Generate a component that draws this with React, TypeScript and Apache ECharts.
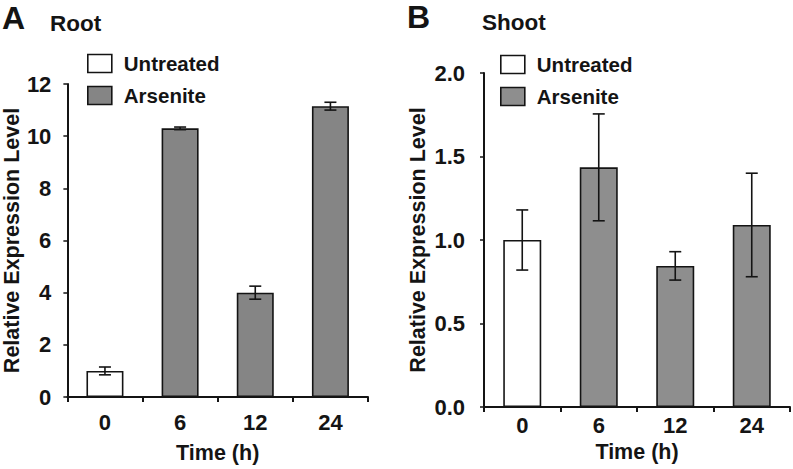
import React, { useEffect, useRef } from "react";
import * as echarts from "echarts";

const categories = ["0", "6", "12", "24"];
const rootMeans = [1.0, 10.3, 4.0, 11.15];
const rootErrors = [0.15, 0.05, 0.25, 0.15];
const shootMeans = [1.0, 1.435, 0.845, 1.09];
const shootErrors = [0.18, 0.32, 0.085, 0.31];
const untreatedIndex = [0];
const seriesNames = ["Untreated", "Arsenite"];

const FONT = "'Liberation Sans', Arial, sans-serif";
const INK = "#141414";
const WHITE = "#ffffff";
const GREY_A = "#858585";
const GREY_B = "#8e8e8e";

function split(means: number[]) {
  const u = means.map((v, i) => (untreatedIndex.includes(i) ? v : "-"));
  const a = means.map((v, i) => (untreatedIndex.includes(i) ? "-" : v));
  return [u, a];
}

function errorData(means: number[], errs: number[]) {
  return means.map((m, i) => [categories[i], m, errs[i]]);
}

const renderError = (params: any, api: any) => {
  const x = api.value(0);
  const m = api.value(1);
  const e = api.value(2);
  const top = api.coord([x, m + e]);
  const bot = api.coord([x, m - e]);
  const hw = 6;
  const st = { stroke: INK, lineWidth: 1.6 };
  return {
    type: "group",
    children: [
      { type: "line", shape: { x1: top[0], y1: top[1], x2: bot[0], y2: bot[1] }, style: st },
      { type: "line", shape: { x1: top[0] - hw, y1: top[1], x2: top[0] + hw, y2: top[1] }, style: st },
      { type: "line", shape: { x1: bot[0] - hw, y1: bot[1], x2: bot[0] + hw, y2: bot[1] }, style: st },
    ],
  };
};

export default function App() {
  const ref = useRef<HTMLDivElement>(null);
  useEffect(() => {
    if (!ref.current) return;
    const chart = echarts.init(ref.current, undefined, { renderer: "svg" });
    const [ru, ra] = split(rootMeans);
    const [su, sa] = split(shootMeans);
    const axisLabel = { color: INK, fontWeight: "bold", fontSize: 22, fontFamily: FONT };
    const nameStyle = { color: INK, fontWeight: "bold", fontSize: 21.5, fontFamily: FONT };
    const axisLine = { show: true, lineStyle: { color: INK, width: 2 } };
    const barBase = (color: string) => ({ color, borderColor: INK, borderWidth: 1.6 });

    const legendCommon = (color: string) => ({
      orient: "vertical",
      padding: 0,
      itemWidth: 24,
      itemHeight: 18,
      itemGap: 11,
      icon: "rect",
      selectedMode: false,
      textStyle: { color: INK, fontWeight: "bold", fontSize: 20.5, fontFamily: FONT, padding: [0, 0, 0, 7] },
      data: [
        { name: seriesNames[0], itemStyle: { color: WHITE, borderColor: INK, borderWidth: 1.6 } },
        { name: seriesNames[1], itemStyle: { color, borderColor: INK, borderWidth: 1.6 } },
      ],
    });

    chart.setOption({
      animation: false,
      backgroundColor: "#ffffff",
      grid: [
        { left: 66, top: 84, width: 302, height: 317 },
        { left: 484, top: 73, width: 306, height: 334 },
      ],
      legend: [
        { ...legendCommon(GREY_A), left: 87, top: 53 },
        { ...legendCommon(GREY_B), left: 500, top: 54 },
      ],
      graphic: [
        { type: "text", left: 2, top: 2, style: { text: "A", fontSize: 32, fontWeight: "bold", fontFamily: FONT, fill: INK } },
        { type: "text", left: 50, top: 12, style: { text: "Root", fontSize: 22.5, fontWeight: "bold", fontFamily: FONT, fill: INK } },
        { type: "text", left: 407, top: 1, style: { text: "B", fontSize: 32, fontWeight: "bold", fontFamily: FONT, fill: INK } },
        { type: "text", left: 482, top: 11, style: { text: "Shoot", fontSize: 22.5, fontWeight: "bold", fontFamily: FONT, fill: INK } },
      ],
      xAxis: [
        {
          type: "category", gridIndex: 0, data: categories,
          axisLine, axisTick: { show: true, length: 5, alignWithLabel: false, lineStyle: { color: INK, width: 2 } },
          axisLabel: { ...axisLabel, margin: 14 },
          name: "Time (h)", nameLocation: "middle", nameGap: 45, nameTextStyle: nameStyle,
        },
        {
          type: "category", gridIndex: 1, data: categories,
          axisLine, axisTick: { show: true, length: 5, alignWithLabel: false, lineStyle: { color: INK, width: 2 } },
          axisLabel: { ...axisLabel, margin: 7 },
          name: "Time (h)", nameLocation: "middle", nameGap: 31, nameTextStyle: nameStyle,
        },
      ],
      yAxis: [
        {
          type: "value", gridIndex: 0, min: 0, max: 12, interval: 2,
          axisLine, axisTick: { show: true, length: 4, lineStyle: { color: INK, width: 1.5 } },
          splitLine: { show: false },
          axisLabel: { ...axisLabel, margin: 16 },
          name: "Relative Expression Level", nameLocation: "middle", nameGap: 41, nameTextStyle: nameStyle,
        },
        {
          type: "value", gridIndex: 1, min: 0, max: 2, interval: 0.5,
          axisLine, axisTick: { show: true, length: 4, lineStyle: { color: INK, width: 1.5 } },
          splitLine: { show: false },
          axisLabel: { ...axisLabel, margin: 19, formatter: (v: number) => v.toFixed(1) },
          name: "Relative Expression Level", nameLocation: "middle", nameGap: 55, nameTextStyle: nameStyle,
        },
      ],
      series: [
        { name: seriesNames[0], type: "bar", xAxisIndex: 0, yAxisIndex: 0, data: ru, barWidth: 37, barGap: "-100%", itemStyle: barBase(WHITE) },
        { name: seriesNames[1], type: "bar", xAxisIndex: 0, yAxisIndex: 0, data: ra, barWidth: 37, barGap: "-100%", itemStyle: barBase(GREY_A) },
        { name: "Root error", type: "custom", xAxisIndex: 0, yAxisIndex: 0, data: errorData(rootMeans, rootErrors), renderItem: renderError, encode: { x: 0, y: 1 }, z: 5 },
        { name: seriesNames[0], type: "bar", xAxisIndex: 1, yAxisIndex: 1, data: su, barWidth: 38, barGap: "-100%", itemStyle: barBase(WHITE) },
        { name: seriesNames[1], type: "bar", xAxisIndex: 1, yAxisIndex: 1, data: sa, barWidth: 38, barGap: "-100%", itemStyle: barBase(GREY_B) },
        { name: "Shoot error", type: "custom", xAxisIndex: 1, yAxisIndex: 1, data: errorData(shootMeans, shootErrors), renderItem: renderError, encode: { x: 0, y: 1 }, z: 5 },
      ],
    });
    return () => chart.dispose();
  }, []);
  return <div ref={ref} style={{ width: 793, height: 469, position: "absolute", left: 0, top: 0, background: "#fff" }} />;
}
